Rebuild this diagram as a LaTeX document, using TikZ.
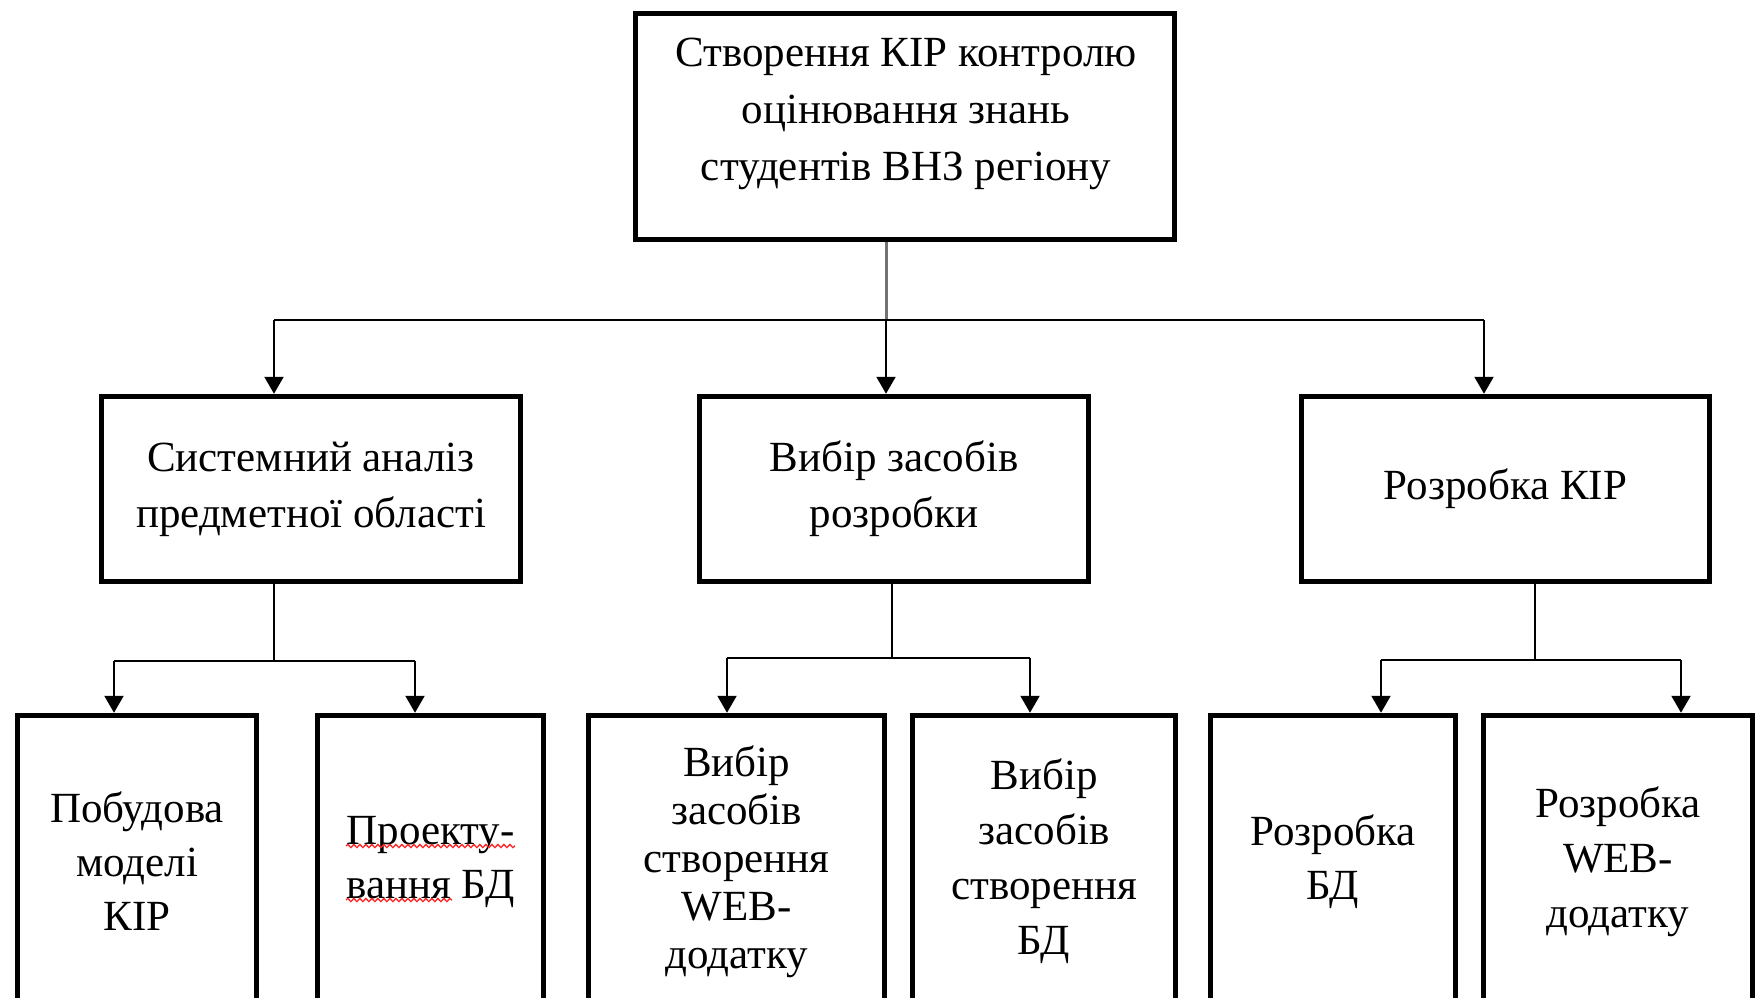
\documentclass[tikz,border=0pt]{standalone}
\usepackage{fontspec}
\setmainfont{Liberation Serif}
\usetikzlibrary{arrows.meta,decorations.pathmorphing}
\begin{document}
\begin{tikzpicture}[x=1pt,y=-1pt,
  box/.style={draw, line width=5.5pt, inner sep=0pt, align=center},
  lbl/.style={align=center, inner sep=0pt},
  big/.style={font=\fontsize{43}{56}\selectfont},
  conn/.style={line width=2.2pt},
  arr/.style={conn, -{Triangle[length=17pt,width=19pt]}},
  spell/.style={red!85, line width=1.3pt, decorate, decoration={snake, amplitude=1.6pt, segment length=6pt}},
]
\clip (0,0) rectangle (1763,997);
% top
\node[box, minimum width=539pt, minimum height=226pt] (top) at (905,126.5) {};
\node[lbl, font=\fontsize{43}{57}\selectfont] (toptxt) at (906,114) {Створення КІР контролю\\оцінювання знань\\студентів ВНЗ регіону};
% middle
\node[box, big, minimum width=419pt, minimum height=185pt] (m1) at (311,489) {Системний аналіз\\предметної області};
\node[box, big, minimum width=389pt, minimum height=185pt] (m2) at (894,489) {Вибір засобів\\розробки};
\node[box, big, minimum width=408pt, minimum height=185pt] (m3) at (1505.5,489) {Розробка КІР};
% bottom
\node[box, font=\fontsize{43}{54}\selectfont, minimum width=239pt, minimum height=292pt] (b1) at (137,861.5) {Побудова\\моделі\\КІР};
\node[box, font=\fontsize{43}{54}\selectfont, minimum width=226pt, minimum height=292pt] (b2) at (430.5,861.5) {Проекту-\\вання БД};
\node[box, font=\fontsize{43}{48}\selectfont, minimum width=296pt, minimum height=292pt] (b3) at (736.5,861.5) {Вибір\\засобів\\створення\\WEB-\\додатку};
\node[box, font=\fontsize{43}{55}\selectfont, minimum width=263pt, minimum height=292pt] (b4) at (1044,861.5) {Вибір\\засобів\\створення\\БД};
\node[box, font=\fontsize{43}{54}\selectfont, minimum width=245pt, minimum height=292pt] (b5) at (1333,861.5) {Розробка\\БД};
\node[box, font=\fontsize{43}{55}\selectfont, minimum width=269pt, minimum height=292pt] (b6) at (1618,861.5) {Розробка\\WEB-\\додатку};
% spell-check marks
\draw[spell] (346,846) -- (515,846);
\draw[spell] (346,900) -- (452,900);
% level 1 connectors
\coordinate (bus) at (886,320);
\coordinate (busL) at (274,320);
\coordinate (busR) at (1484,320);
\draw[line width=3pt, black!55] (top.south -| bus) -- (bus);
\draw[conn] (busL) -- (busR);
\draw[arr] (bus) -- (bus |- m2.north);
\draw[arr] (busL) -- (busL |- m1.north);
\draw[arr] (busR) -- (busR |- m3.north);
% level 2 connectors
\coordinate (j1) at (274,661);
\coordinate (j1L) at (114,661);
\coordinate (j1R) at (415,661);
\draw[conn] (m1.south -| j1) -- (j1);
\draw[conn] (j1L) -- (j1R);
\draw[arr] (j1L) -- (j1L |- b1.north);
\draw[arr] (j1R) -- (j1R |- b2.north);
\coordinate (j2) at (892,658);
\coordinate (j2L) at (727,658);
\coordinate (j2R) at (1030,658);
\draw[conn] (m2.south -| j2) -- (j2);
\draw[conn] (j2L) -- (j2R);
\draw[arr] (j2L) -- (j2L |- b3.north);
\draw[arr] (j2R) -- (j2R |- b4.north);
\coordinate (j3) at (1535,660);
\coordinate (j3L) at (1381,660);
\coordinate (j3R) at (1681,660);
\draw[conn] (m3.south -| j3) -- (j3);
\draw[conn] (j3L) -- (j3R);
\draw[arr] (j3L) -- (j3L |- b5.north);
\draw[arr] (j3R) -- (j3R |- b6.north);
\end{tikzpicture}
\end{document}
